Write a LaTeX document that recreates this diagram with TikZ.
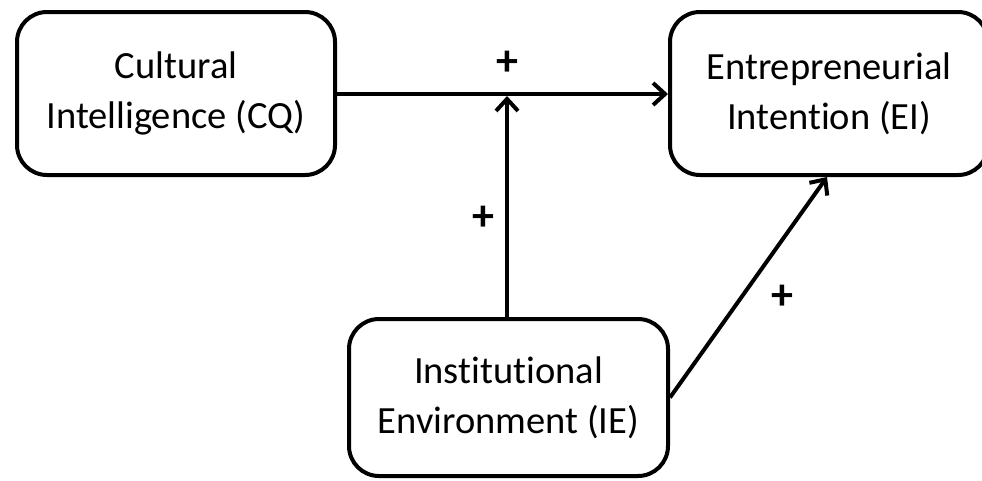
\documentclass[tikz,border=0pt]{standalone}
\usepackage{fontspec}
\setmainfont{Carlito}[Ligatures=NoCommon]
\usetikzlibrary{arrows.meta}
\begin{document}
\begin{tikzpicture}[x=1pt,y=-1pt,
  box/.style={draw, line width=4pt, rounded corners=30pt, align=center,
    font=\fontsize{38.5}{50}\selectfont, inner sep=0pt},
  conn/.style={line width=4pt, -{Straight Barb[length=12pt,width=22pt]}},
  sign/.style={font=\fontsize{44}{48}\selectfont\bfseries, inner sep=0pt}]
\useasboundingbox (0,0) rectangle (982,480);
\node[box, minimum width=318pt, minimum height=163pt] (cq) at (176,93.5) {Cultural\\Intelligence (CQ)};
\node[box, minimum width=318pt, minimum height=163pt] (ei) at (829,93.5) {Entrepreneurial\\Intention (EI)};
\node[box, minimum width=319pt, minimum height=157pt] (ie) at (508.5,397.5) {Institutional\\Environment (IE)};
\draw[conn] (cq.east |- 0,94) -- (ei.west |- 0,94);
\coordinate (m) at (507,96);
\draw[conn] (ie.north -| m) -- (m);
\draw[conn] (ie.east) -- ([xshift=-2pt]ei.south);
\node[sign] (p1) at (507,63) {+};
\node[sign] (p2) at (483,218) {+};
\node[sign] (p3) at (782,297) {+};
\end{tikzpicture}
\end{document}
